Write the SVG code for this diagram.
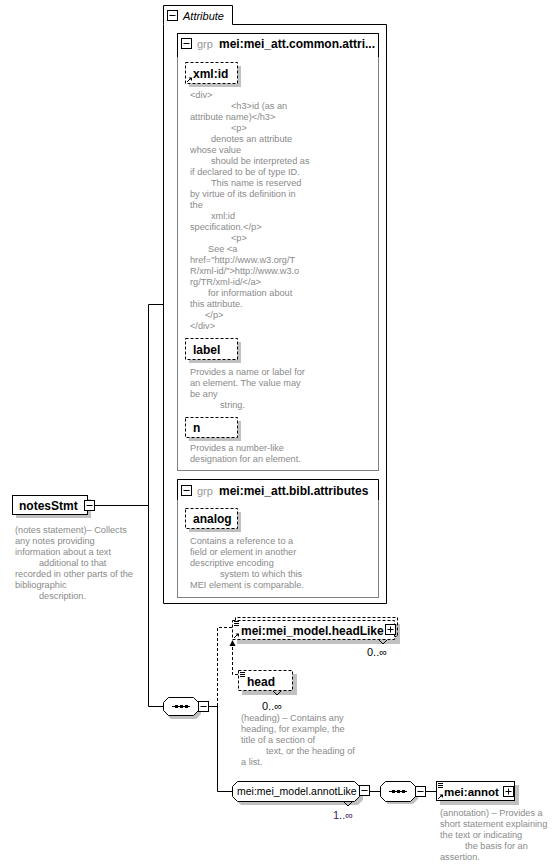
<svg xmlns="http://www.w3.org/2000/svg" width="560" height="867" viewBox="0 0 560 867">
<style>
  text { font-family: "Liberation Sans", Arial, sans-serif; }
  .nm { font-size: 12px; font-weight: bold; fill: #000; }
  .nmn { font-size: 10.5px; fill: #000; }
  .ds { font-size: 9.2px; fill: #8a8a8a; }
  .grp { font-size: 11px; fill: #999; }
  .occ { font-size: 11px; fill: #000; }
  .box { fill: #fff; stroke: #000; stroke-width: 1; }
  .dbox { fill: #fff; stroke: #000; stroke-width: 1; stroke-dasharray: 3 2; }
  .sh { fill: #c0c0c0; stroke: none; }
  .ln { fill: none; stroke: #000; stroke-width: 1; }
  .dl { fill: none; stroke: #000; stroke-width: 1; stroke-dasharray: 3 2; }
  .gb { fill: none; stroke: #808080; stroke-width: 1; }
</style>
<defs>
  <g id="minus"><rect x="0.5" y="0.5" width="10" height="10" fill="#fff" stroke="#000"/><line x1="2.5" y1="5.5" x2="8.5" y2="5.5" stroke="#000"/></g>
  <g id="plus"><rect x="0.5" y="0.5" width="10" height="10" fill="#fff" stroke="#000"/><line x1="2.5" y1="5.5" x2="8.5" y2="5.5" stroke="#000"/><line x1="5.5" y1="2.5" x2="5.5" y2="8.5" stroke="#000"/></g>
  <g id="lines"><line x1="0" y1="0.5" x2="5" y2="0.5" stroke="#000"/><line x1="0" y1="2.5" x2="5" y2="2.5" stroke="#000"/><line x1="0" y1="4.5" x2="5" y2="4.5" stroke="#000"/></g>
  <g id="refarrow"><line x1="0" y1="5" x2="4" y2="1" stroke="#000"/><path d="M1.5,0.5 L5,0.5 L5,4 Z" fill="#000"/></g>
</defs>

<!-- Connectors -->
<g id="connectors">
  <line class="ln" x1="95" y1="505.5" x2="148.5" y2="505.5"/>
  <line class="ln" x1="148.5" y1="304.5" x2="148.5" y2="706.5"/>
  <line class="ln" x1="148.5" y1="304.5" x2="163" y2="304.5"/>
  <line class="ln" x1="148.5" y1="706.5" x2="163" y2="706.5"/>
  <line class="ln" x1="208" y1="706.5" x2="217.5" y2="706.5"/>
  <path class="dl" d="M217.5,706 V627.5 H232"/>
  <path class="ln" d="M217.5,706 V791.5 H232"/>
  <path class="dl" d="M238,674.5 H232.5 V645"/>
  <path d="M229.5,646 L232.5,640 L235.5,646 Z" fill="#000"/>
  <line class="ln" x1="370" y1="791.5" x2="380" y2="791.5"/>
  <line class="ln" x1="426" y1="791.5" x2="436" y2="791.5"/>
</g>

<!-- Attribute container -->
<g id="attributes">
  <path class="ln" d="M163.5,24.5 V5.5 H232.5 V24.5 H386.5 V603.5 H163.5 Z" fill="#fff"/>
  <use href="#minus" x="167" y="10"/>
  <text x="183" y="20" font-size="11" font-style="italic">Attribute</text>

  <g id="grp-common">
    <rect class="gb" x="177.5" y="33.5" width="201" height="437"/>
    <path class="ln" d="M177.5,57 V33.5 H378.5 V57"/>
    <use href="#minus" x="181" y="38"/>
    <text class="grp" x="197" y="48">grp</text>
    <text class="nm" x="219" y="48">mei:mei_att.common.attri...</text>
  </g>

  <g id="attr-xmlid">
    <rect class="sh" x="189" y="66" width="52" height="21"/>
    <rect class="dbox" x="185.5" y="62.5" width="52" height="21"/>
    <use href="#refarrow" x="187" y="77"/>
    <text class="nm" x="193" y="78">xml:id</text>
    <text class="ds">
      <tspan x="190" y="98">&lt;div&gt;</tspan>
      <tspan x="231" y="109">&lt;h3&gt;id (as an</tspan>
      <tspan x="190" y="120">attribute name)&lt;/h3&gt;</tspan>
      <tspan x="231" y="131">&lt;p&gt;</tspan>
      <tspan x="211" y="142">denotes an attribute</tspan>
      <tspan x="190" y="153">whose value</tspan>
      <tspan x="211" y="164">should be interpreted as</tspan>
      <tspan x="190" y="175">if declared to be of type ID.</tspan>
      <tspan x="211" y="186">This name is reserved</tspan>
      <tspan x="190" y="197">by virtue of its definition in</tspan>
      <tspan x="190" y="208">the</tspan>
      <tspan x="211" y="219">xml:id</tspan>
      <tspan x="190" y="230">specification.&lt;/p&gt;</tspan>
      <tspan x="231" y="241">&lt;p&gt;</tspan>
      <tspan x="208" y="252">See &lt;a</tspan>
      <tspan x="190" y="263">href="http://www.w3.org/T</tspan>
      <tspan x="190" y="274">R/xml-id/"&gt;http://www.w3.o</tspan>
      <tspan x="190" y="285">rg/TR/xml-id/&lt;/a&gt;</tspan>
      <tspan x="208" y="296">for information about</tspan>
      <tspan x="190" y="307">this attribute.</tspan>
      <tspan x="205" y="318">&lt;/p&gt;</tspan>
      <tspan x="190" y="329">&lt;/div&gt;</tspan>
    </text>
  </g>

  <g id="attr-label">
    <rect class="sh" x="189" y="342" width="52" height="21"/>
    <rect class="dbox" x="185.5" y="338.5" width="52" height="21"/>
    <text class="nm" x="193" y="354">label</text>
    <text class="ds">
      <tspan x="190" y="375">Provides a name or label for</tspan>
      <tspan x="190" y="386">an element. The value may</tspan>
      <tspan x="190" y="397">be any</tspan>
      <tspan x="220" y="408">string.</tspan>
    </text>
  </g>

  <g id="attr-n">
    <rect class="sh" x="189" y="421" width="52" height="20"/>
    <rect class="dbox" x="185.5" y="417.5" width="52" height="20"/>
    <text class="nm" x="193" y="432">n</text>
    <text class="ds">
      <tspan x="190" y="451">Provides a number-like</tspan>
      <tspan x="190" y="462">designation for an element.</tspan>
    </text>
  </g>

  <g id="grp-bibl">
    <rect class="gb" x="177.5" y="479.5" width="201" height="118"/>
    <path class="ln" d="M177.5,500 V479.5 H378.5 V500"/>
    <use href="#minus" x="181" y="485"/>
    <text class="grp" x="197" y="495">grp</text>
    <text class="nm" x="219" y="495">mei:mei_att.bibl.attributes</text>
  </g>

  <g id="attr-analog">
    <rect class="sh" x="189" y="512" width="52" height="20"/>
    <rect class="dbox" x="185.5" y="508.5" width="52" height="20"/>
    <text class="nm" x="193" y="523">analog</text>
    <text class="ds">
      <tspan x="190" y="544">Contains a reference to a</tspan>
      <tspan x="190" y="555">field or element in another</tspan>
      <tspan x="190" y="566">descriptive encoding</tspan>
      <tspan x="220" y="577">system to which this</tspan>
      <tspan x="190" y="588">MEI element is comparable.</tspan>
    </text>
  </g>
</g>

<!-- notesStmt -->
<g id="notesStmt">
  <rect class="sh" x="16" y="499" width="75" height="19"/>
  <rect class="box" x="12.5" y="495.5" width="75" height="19"/>
  <text class="nm" x="19" y="510">notesStmt</text>
  <use href="#minus" x="84" y="500"/>
  <text class="ds">
    <tspan x="15" y="533">(notes statement)– Collects</tspan>
    <tspan x="15" y="544">any notes providing</tspan>
    <tspan x="15" y="555">information about a text</tspan>
    <tspan x="39" y="566">additional to that</tspan>
    <tspan x="15" y="577">recorded in other parts of the</tspan>
    <tspan x="15" y="588">bibliographic</tspan>
    <tspan x="39" y="599">description.</tspan>
  </text>
</g>

<!-- sequence 1 -->
<g id="seq1">
  <path class="sh" d="M171,701 H196 L201,706 V714 L196,719 H171 L166,714 V706 Z"/>
  <path class="box" d="M168.5,697.5 H193.5 L198.5,702.5 V710.5 L193.5,715.5 H168.5 L163.5,710.5 V702.5 Z"/>
  <line class="ln" x1="172" y1="706.5" x2="190" y2="706.5"/>
  <rect x="175" y="705" width="3" height="3" fill="#000"/>
  <rect x="180" y="705" width="3" height="3" fill="#000"/>
  <rect x="185" y="705" width="3" height="3" fill="#000"/>
  <use href="#minus" x="198" y="701"/>
</g>

<!-- headLike -->
<g id="headLike">
  <rect class="sh" x="237" y="624" width="163" height="20"/>
  <path class="dl" d="M235.5,620.5 V617.5 H397.5 V636.5 H394.5"/>
  <rect class="dbox" x="232.5" y="620.5" width="162" height="19"/>
  <path d="M379,640 L383,644 L387,640" fill="none" stroke="#000"/>
  <use href="#lines" x="234" y="621"/>
  <use href="#refarrow" x="234" y="633"/>
  <text class="nm" x="241" y="635">mei:mei_model.headLike</text>
  <use href="#plus" x="385" y="624"/>
  <text class="occ" x="367" y="656">0..∞</text>
</g>

<!-- head -->
<g id="head">
  <rect class="sh" x="242" y="674" width="55" height="21"/>
  <rect class="dbox" x="238.5" y="670.5" width="54" height="20"/>
  <path d="M273,691 L277,695 L281,691" fill="none" stroke="#000"/>
  <use href="#lines" x="240" y="672"/>
  <text class="nm" x="247" y="686">head</text>
  <text class="occ" x="262" y="710">0..∞</text>
  <text class="ds">
    <tspan x="241" y="721">(heading) – Contains any</tspan>
    <tspan x="241" y="732">heading, for example, the</tspan>
    <tspan x="241" y="743">title of a section of</tspan>
    <tspan x="266" y="754">text, or the heading of</tspan>
    <tspan x="241" y="765">a list.</tspan>
  </text>
</g>

<!-- annotLike -->
<g id="annotLike">
  <path class="sh" d="M241,785 H358 L363,790 V800 L358,805 H241 L236,800 V790 Z"/>
  <path class="box" d="M237.5,781.5 H354.5 L359.5,786.5 V796.5 L354.5,801.5 H237.5 L232.5,796.5 V786.5 Z"/>
  <path d="M344,802 L348,806 L352,802" fill="none" stroke="#000"/>
  <text class="nmn" x="237" y="795">mei:mei_model.annotLike</text>
  <use href="#minus" x="359" y="785"/>
  <text class="occ" x="333" y="819" style="fill:#3a1a6a">1..∞</text>
</g>

<!-- sequence 2 -->
<g id="seq2">
  <path class="sh" d="M388,785 H413 L418,790 V799 L413,804 H388 L383,799 V790 Z"/>
  <path class="box" d="M385.5,781.5 H410.5 L415.5,786.5 V796.5 L410.5,801.5 H385.5 L380.5,796.5 V786.5 Z"/>
  <line class="ln" x1="389" y1="791.5" x2="407" y2="791.5"/>
  <rect x="392" y="790" width="3" height="3" fill="#000"/>
  <rect x="397" y="790" width="3" height="3" fill="#000"/>
  <rect x="402" y="790" width="3" height="3" fill="#000"/>
  <use href="#minus" x="415" y="786"/>
</g>

<!-- annot -->
<g id="annot">
  <rect class="sh" x="440" y="785" width="79" height="20"/>
  <rect class="box" x="436.5" y="781.5" width="78" height="19"/>
  <use href="#lines" x="438" y="783"/>
  <use href="#refarrow" x="438" y="794"/>
  <text class="nm" x="444" y="796" style="font-size:11.5px">mei:annot</text>
  <use href="#plus" x="503" y="786"/>
  <text class="ds">
    <tspan x="440" y="816">(annotation) – Provides a</tspan>
    <tspan x="440" y="827">short statement explaining</tspan>
    <tspan x="440" y="838">the text or indicating</tspan>
    <tspan x="465" y="849">the basis for an</tspan>
    <tspan x="440" y="860">assertion.</tspan>
  </text>
</g>
</svg>
